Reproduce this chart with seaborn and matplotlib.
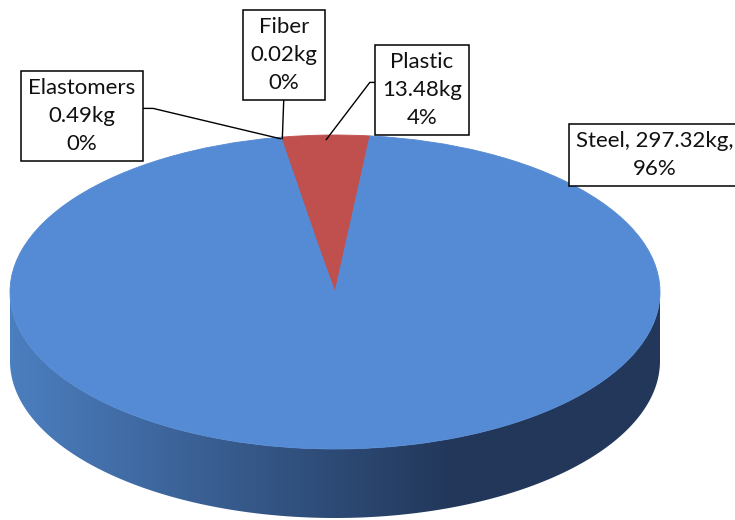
import numpy as np
import matplotlib
matplotlib.use("Agg")
import matplotlib.pyplot as plt
import seaborn as sns
from matplotlib.colors import LinearSegmentedColormap
from matplotlib.path import Path

# Material composition by mass
materials = ["Elastomers", "Fiber", "Plastic", "Steel"]
mass_kg = [0.49, 0.02, 13.48, 297.32]
percent_labels = ["0%", "0%", "4%", "96%"]

slice_colors = ["#558ad4", "#558ad4", "#c0504d", "#558ad4"]
side_light, side_dark = "#4c7fc0", "#22375a"

sns.set_theme(style="white")
plt.rcParams["font.family"] = ["Lato", "DejaVu Sans"]

W, H = 735, 520
fig = plt.figure(figsize=(W / 100, H / 100), dpi=100)
ax = fig.add_axes([0, 0, 1, 1])

# pixel geometry of the tilted disc
CX, CY, RX, RY = 335, 292, 325, 157
DEPTH = 69 / RY


def px(x, y):
    """pixel position (origin top-left) -> data coordinates"""
    return ((x - CX) / RX, (CY - y) / RY)


# top face
wedges, _ = ax.pie(mass_kg, colors=slice_colors, startangle=100.0,
                   counterclock=False, radius=1, center=(0, 0),
                   wedgeprops=dict(linewidth=0.6))
for w in wedges:
    w.set_edgecolor(w.get_facecolor())
    w.set_zorder(2)

# extruded side wall with horizontal shading
t = np.linspace(np.pi, 2 * np.pi, 300)
upper = np.column_stack([np.cos(t), np.sin(t)])
lower = np.column_stack([np.cos(t[::-1]), np.sin(t[::-1]) - DEPTH])
verts = np.vstack([upper, lower, upper[:1]])
side_path = Path(verts, closed=True)

cmap = LinearSegmentedColormap.from_list(
    "side", [(0.0, side_light), (0.68, side_dark), (1.0, side_dark)])
grad = np.linspace(0, 1, 512)[None, :]
im = ax.imshow(grad, extent=[-1.01, 1.01, -1 - DEPTH - 0.02, 0.05],
               aspect="auto", cmap=cmap, interpolation="bilinear", zorder=1)
im.set_clip_path(side_path, ax.transData)

ax.set_xlim(-CX / RX, (W - CX) / RX)
ax.set_ylim(-(H - CY) / RY, CY / RY)
ax.set_aspect("auto")
ax.axis("off")

# data labels
box = dict(boxstyle="square,pad=0.32", fc="white", ec="black", lw=1.1)
font = dict(fontsize=16, color="#111111", ha="center", va="center",
            linespacing=1.5, zorder=5)

def anchor(w, r):
    mid = np.deg2rad((w.theta1 + w.theta2) / 2)
    return (r * np.cos(mid), r * np.sin(mid))

labels = []
for name, m, p in zip(materials, mass_kg, percent_labels):
    if name == "Steel":
        labels.append(f"{name}, {m:.2f}kg,\n{p}")
    else:
        labels.append(f"{name}\n{m:.2f}kg\n{p}")

# Elastomers
ax.annotate(labels[0], xy=anchor(wedges[0], 0.99), xytext=px(82, 116),
            bbox=box, **font,
            arrowprops=dict(arrowstyle="-", color="black", lw=1,
                            relpos=(1, 0.6), shrinkA=0, shrinkB=0,
                            connectionstyle="angle,angleA=0,angleB=-13.4,rad=0"))
# Fiber
ax.annotate(labels[1], xy=anchor(wedges[1], 0.99), xytext=px(284, 55),
            bbox=box, **font,
            arrowprops=dict(arrowstyle="-", color="black", lw=1,
                            relpos=(0.5, 0), shrinkA=0, shrinkB=0))
# Plastic
ax.annotate(labels[2], xy=anchor(wedges[2], 0.97), xytext=px(422, 90),
            bbox=box, **font,
            arrowprops=dict(arrowstyle="-", color="black", lw=1,
                            relpos=(0, 0.6), shrinkA=0, shrinkB=0,
                            connectionstyle="angle,angleA=0,angleB=52.7,rad=0"))
# Steel
ax.annotate(labels[3], xy=anchor(wedges[3], 1.0), xytext=px(655, 155),
            bbox=box, annotation_clip=False, **font)

fig.savefig("out.png", dpi=100, facecolor="white")
